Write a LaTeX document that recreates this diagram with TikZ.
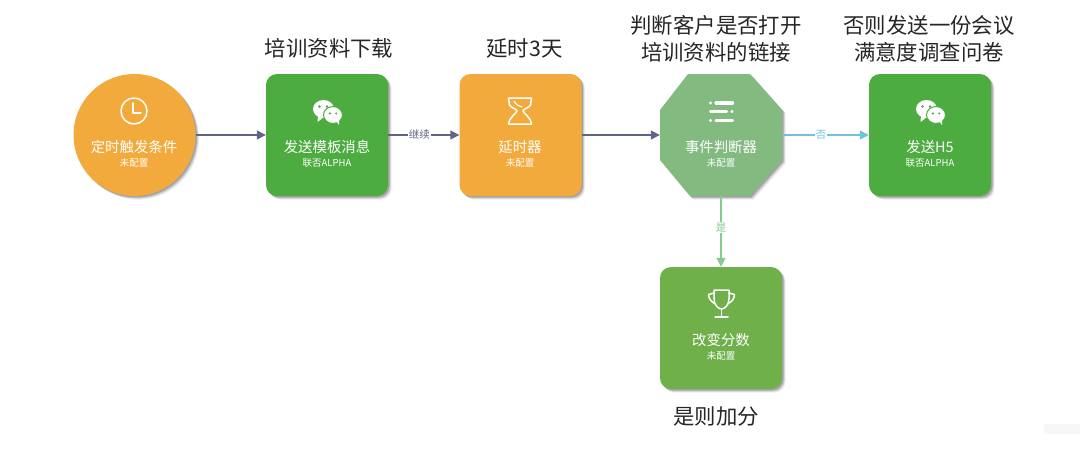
\documentclass[tikz,border=0pt]{standalone}
\usepackage{fontspec}
\setmainfont{Noto Sans CJK SC}
\usetikzlibrary{arrows.meta,shadows,shapes.geometric}
\definecolor{cOrange}{HTML}{F3AA3C}
\definecolor{cGreen}{HTML}{4CAC3F}
\definecolor{cOct}{HTML}{82BA80}
\definecolor{cTrophy}{HTML}{6FB04A}
\definecolor{cArrow}{HTML}{5F6488}
\definecolor{cBlue}{HTML}{6FC3DC}
\definecolor{cLime}{HTML}{84CC8F}
\tikzset{
  softshadow/.style={
    drop shadow={shadow xshift=3.6pt,shadow yshift=-3.6pt,opacity=.07,fill=black},
    drop shadow={shadow xshift=2.6pt,shadow yshift=-2.6pt,opacity=.13,fill=black},
    drop shadow={shadow xshift=1.5pt,shadow yshift=-1.5pt,opacity=.2,fill=black}},
  boxnode/.style={rectangle,rounded corners=11pt,minimum width=122pt,minimum height=122pt,inner sep=0pt,softshadow},
  roundnode/.style={circle,minimum size=122pt,inner sep=0pt,softshadow,fill=cOrange},
  plainnode/.style={rectangle,minimum width=122pt,minimum height=122pt,inner sep=0pt},
  nodetitle/.style={text=white,font=\fontsize{14.4}{16}\selectfont,inner sep=0pt},
  nodesub/.style={text=white,font=\fontsize{9.5}{11}\selectfont,inner sep=0pt},
  caption/.style={text=black!85,font=\fontsize{21.4}{27}\selectfont,align=center,inner sep=0pt},
  flow/.style={line width=1.5pt,-{Triangle[length=9pt,width=9pt]}},
  edgelabel/.style={fill=white,inner sep=1pt,font=\fontsize{10.5}{12}\selectfont},
  iconline/.style={draw=white,line width=1.5pt,line cap=round,line join=round},
  pics/clockicon/.style={code={
    \draw[iconline] (0,0) circle (13);
    \draw[iconline] (-1,-8) -- (-1,2) -- (7,2);}},
  pics/wechaticon/.style={code={
    \fill[white] (-3.5,-2) ellipse (10.5 and 9);
    \fill[white] (-9,4) -- (-9.5,11) -- (-3,6) -- cycle;
    \fill[white,draw=#1,line width=1pt] (6,4) ellipse (9.5 and 8.5);
    \fill[white] (9,10) -- (12,14) -- (12,8) -- cycle;
    \fill[#1] (-7.5,-4.5) circle (1.3) (0,-4.5) circle (1.3) (2.8,2.5) circle (1.2) (9.2,2.5) circle (1.2);}},
  pics/glassicon/.style={code={
    \draw[iconline] (-11.5,-13) -- (11.5,-13) -- (10.5,-6) .. controls (9,-3) and (3,-2) .. (3,0)
      .. controls (3,2) and (10,5) .. (11.5,13) -- (-11.5,13)
      .. controls (-10,5) and (-3,2) .. (-3,0) .. controls (-3,-2) and (-9,-3) .. (-10.5,-6) -- cycle;
    \draw[iconline,line width=1.1pt] (-6,-10) .. controls (-4,-6) and (-1,-5) .. (2,-4);}},
  pics/listicon/.style={code={
    \fill[white] (-11,-8) circle (1.7) (10.5,0.5) circle (1.7) (-11,9.5) circle (1.7);
    \draw[white,line width=3.2pt,line cap=round] (-5.5,-8) -- (11,-8) (-11,0.5) -- (5,0.5) (-5.5,9.5) -- (11,9.5);}},
  pics/trophyicon/.style={code={
    \draw[iconline] (-7.5,-14) -- (7.5,-14) -- (7.5,-5) .. controls (7.5,1) and (3,5) .. (0,5)
      .. controls (-3,5) and (-7.5,1) .. (-7.5,-5) -- cycle;
    \draw[iconline] (-7.5,-11) -- (-13,-9.5) .. controls (-13,-5) and (-10,-2) .. (-6,0);
    \draw[iconline] (7.5,-11) -- (13,-9.5) .. controls (13,-5) and (10,-2) .. (6,0);
    \draw[iconline] (0,5) -- (0,13) (-6.5,13) -- (6.5,13);}},
}
\begin{document}
\begin{tikzpicture}[x=1pt,y=-1pt]
\useasboundingbox[fill=white] (0,0) rectangle (1080,450);
\fill[black!3] (1044,424) rectangle (1080,434);

% octagon body (drawn first; its named node sits on top)
\fill[cOct,softshadow] (688,74) -- (750,74) -- (782,110) -- (782,160) -- (750,196) -- (690,196) -- (660,160) -- (660,110) -- cycle;

\node[roundnode] (n1) at (134.5,135) {};
\node[boxnode,fill=cGreen] (n2) at (327,135) {};
\node[boxnode,fill=cOrange] (n3) at (520.5,135) {};
\node[plainnode] (n4) at (721,135) {};
\node[boxnode,fill=cGreen] (n5) at (930,135) {};
\node[boxnode,fill=cTrophy] (n6) at (721,328) {};

\draw[flow,cArrow] (n1) -- (n2);
\draw[flow,cArrow] (n2) -- node[edgelabel,pos=.44,text=cArrow] (l1) {继续} (n3);
\draw[flow,cArrow] (n3) -- (n4);
\draw[flow,cBlue] (n4) -- node[edgelabel,pos=.45,text=cBlue] (l2) {否} (n5);
\draw[flow,cLime] (n4) -- node[edgelabel,pos=.44,text=cLime] (l3) {是} (n6);

\pic at (134,111) {clockicon};
\pic at (327,111) {wechaticon=cGreen};
\pic at (520,111) {glassicon};
\pic at (721.5,111) {listicon};
\pic at (721.5,304) {trophyicon};
\pic at (930,111) {wechaticon=cGreen};

\node[nodetitle] (t1) at (134,147) {定时触发条件};
\node[nodesub] (s1) at (134,163) {未配置};
\node[nodetitle] (t2) at (327,147) {发送模板消息};
\node[nodesub] (s2) at (327,163) {联否ALPHA};
\node[nodetitle] (t3) at (520,147) {延时器};
\node[nodesub] (s3) at (520,163) {未配置};
\node[nodetitle] (t4) at (721,147) {事件判断器};
\node[nodesub] (s4) at (721,163) {未配置};
\node[nodetitle] (t5) at (930,147) {发送H5};
\node[nodesub] (s5) at (930,163) {联否ALPHA};
\node[nodetitle] (t6) at (721,340) {改变分数};
\node[nodesub] (s6) at (721,356) {未配置};

\node[caption] (c2) at (329,48) {培训资料下载};
\node[caption] (c3) at (524.5,48) {延时3天};
\node[caption] (c4) at (716,38.5) {判断客户是否打开\\培训资料的链接};
\node[caption] (c5) at (929,38.5) {否则发送一份会议\\满意度调查问卷};
\node[caption] (c6) at (716,416) {是则加分};
\end{tikzpicture}
\end{document}
